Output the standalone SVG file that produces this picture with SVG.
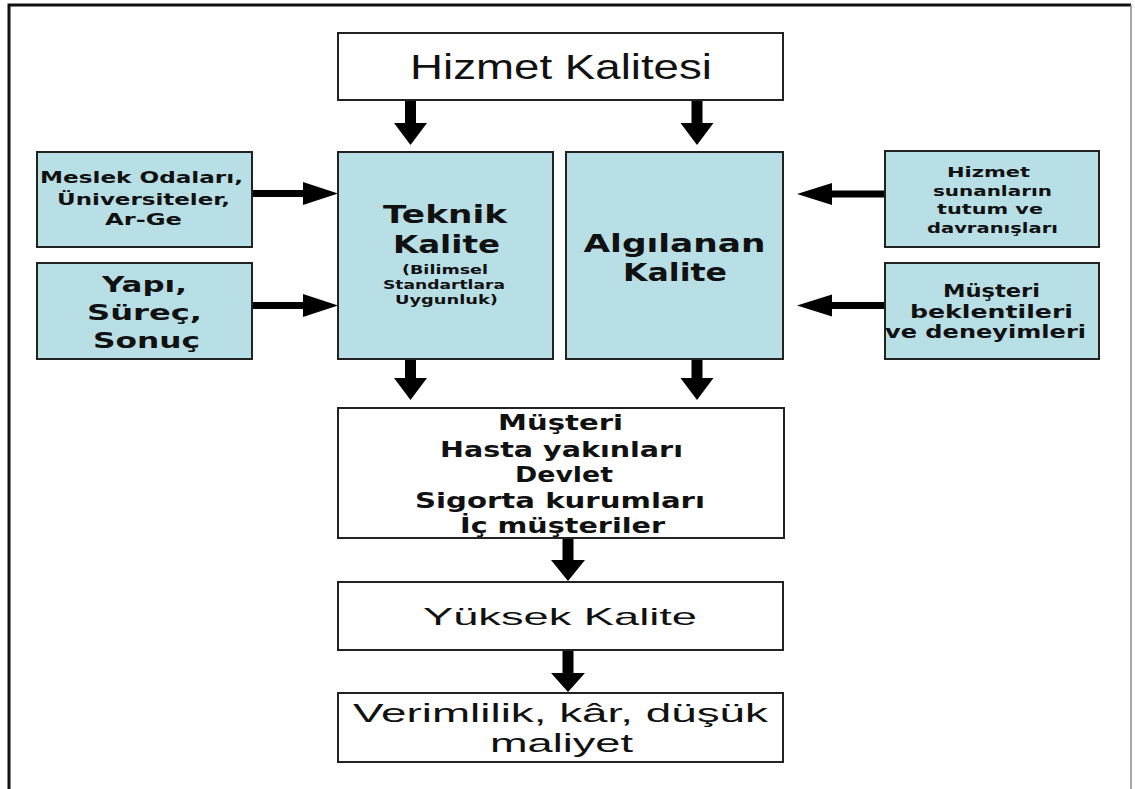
<svg xmlns="http://www.w3.org/2000/svg" width="1135" height="789" viewBox="0 0 1135 789">
<defs>
<style>
.w{fill:#ffffff;stroke:#222;stroke-width:2}
.b{fill:#b8dfe6;stroke:#222;stroke-width:2}
.a{fill:#000}
.bk{font-family:"DejaVu Sans",Verdana,sans-serif;font-weight:bold;fill:#111;text-anchor:middle}
.rg{font-family:"Liberation Sans",Arial,sans-serif;fill:#111;text-anchor:middle}
</style>
</defs>
<rect width="1135" height="789" fill="#ffffff"/>
<g id="frame" fill="none">
<path d="M9,789 V5 H1131" stroke="#111" stroke-width="3"/>
<path d="M1131,5 V789" stroke="#888" stroke-width="1.5"/>
</g>
<g id="connectors">
<polygon class="a" points="405,100 416,100 416,123 427,123 410.5,145 394,123 405,123"/>
<polygon class="a" points="691.5,100 702.5,100 702.5,123 713.5,123 697,145 680.5,123 691.5,123"/>
<polygon class="a" points="252,190 303,190 303,182 338,193.5 303,205 303,197 252,197"/>
<polygon class="a" points="252,302 303,302 303,294 338,305.5 303,317 303,309 252,309"/>
<polygon class="a" points="885,190.5 832,190.5 832,183 797,194 832,205 832,197.5 885,197.5"/>
<polygon class="a" points="885,302 832,302 832,294.5 797,305.5 832,316.5 832,309 885,309"/>
<polygon class="a" points="405,358 416,358 416,378 427,378 410.5,400 394,378 405,378"/>
<polygon class="a" points="691.5,358 702.5,358 702.5,378 713.5,378 697,400 680.5,378 691.5,378"/>
<polygon class="a" points="562.5,538 573.5,538 573.5,560 585,560 568,581 551,560 562.5,560"/>
<polygon class="a" points="562.5,650 573.5,650 573.5,673 585,673 568,692 551,673 562.5,673"/>
</g>
<g id="hizmet-kalitesi">
<rect class="w" x="338" y="33" width="445" height="67"/>
<text class="rg" x="561" y="79" font-size="35" textLength="302" lengthAdjust="spacingAndGlyphs">Hizmet Kalitesi</text>
</g>
<g id="meslek">
<rect class="b" x="37" y="152" width="215" height="95"/>
<text class="bk" font-size="15" x="141.5" y="183" textLength="203" lengthAdjust="spacingAndGlyphs">Meslek Odaları,</text>
<text class="bk" font-size="15" x="143.5" y="205" textLength="173" lengthAdjust="spacingAndGlyphs">Üniversiteler,</text>
<text class="bk" font-size="15" x="143.5" y="225" textLength="77" lengthAdjust="spacingAndGlyphs">Ar-Ge</text>
</g>
<g id="yapi">
<rect class="b" x="37" y="263" width="215" height="96"/>
<text class="bk" font-size="21" x="144.5" y="292" textLength="85" lengthAdjust="spacingAndGlyphs">Yapı,</text>
<text class="bk" font-size="21" x="144.5" y="320" textLength="115" lengthAdjust="spacingAndGlyphs">Süreç,</text>
<text class="bk" font-size="21" x="146.5" y="348" textLength="107" lengthAdjust="spacingAndGlyphs">Sonuç</text>
</g>
<g id="teknik-kalite">
<rect class="b" x="338" y="152" width="215" height="207"/>
<text class="bk" font-size="24" x="445" y="223" textLength="124" lengthAdjust="spacingAndGlyphs">Teknik</text>
<text class="bk" font-size="24" x="446.5" y="253" textLength="107" lengthAdjust="spacingAndGlyphs">Kalite</text>
<text class="bk" font-size="13" font-weight="normal" x="445" y="274" textLength="86" lengthAdjust="spacingAndGlyphs">(Bilimsel</text>
<text class="bk" font-size="13" font-weight="normal" x="444" y="289" textLength="122" lengthAdjust="spacingAndGlyphs">Standartlara</text>
<text class="bk" font-size="13" font-weight="normal" x="446.5" y="304" textLength="103" lengthAdjust="spacingAndGlyphs">Uygunluk)</text>
</g>
<g id="algilanan-kalite">
<rect class="b" x="566" y="152" width="217" height="207"/>
<text class="bk" font-size="24" x="674.5" y="252" textLength="182" lengthAdjust="spacingAndGlyphs">Algılanan</text>
<text class="bk" font-size="24" x="675" y="281" textLength="104" lengthAdjust="spacingAndGlyphs">Kalite</text>
</g>
<g id="hizmet-sunanlar">
<rect class="b" x="885" y="151" width="214" height="96"/>
<text class="bk" font-size="14" x="988.5" y="177" textLength="83" lengthAdjust="spacingAndGlyphs">Hizmet</text>
<text class="bk" font-size="14" x="992.5" y="196" textLength="119" lengthAdjust="spacingAndGlyphs">sunanların</text>
<text class="bk" font-size="14" x="990" y="214" textLength="106" lengthAdjust="spacingAndGlyphs">tutum ve</text>
<text class="bk" font-size="14" x="992.5" y="233" textLength="131" lengthAdjust="spacingAndGlyphs">davranışları</text>
</g>
<g id="musteri-beklentileri">
<rect class="b" x="885" y="263" width="214" height="96"/>
<text class="bk" font-size="17" x="991.5" y="297" textLength="97" lengthAdjust="spacingAndGlyphs">Müşteri</text>
<text class="bk" font-size="17" x="991.5" y="318" textLength="163" lengthAdjust="spacingAndGlyphs">beklentileri</text>
<text class="bk" font-size="17" x="985.5" y="338" textLength="201" lengthAdjust="spacingAndGlyphs">ve deneyimleri</text>
</g>
<g id="musteri">
<rect class="w" x="338" y="408" width="446" height="130"/>
<text class="bk" font-size="21" x="560.5" y="430" textLength="125" lengthAdjust="spacingAndGlyphs">Müşteri</text>
<text class="bk" font-size="21" x="561.5" y="457" textLength="243" lengthAdjust="spacingAndGlyphs">Hasta yakınları</text>
<text class="bk" font-size="21" x="564" y="482" textLength="98" lengthAdjust="spacingAndGlyphs">Devlet</text>
<text class="bk" font-size="21" x="560" y="508" textLength="290" lengthAdjust="spacingAndGlyphs">Sigorta kurumları</text>
<text class="bk" font-size="21" x="562.5" y="533" textLength="205" lengthAdjust="spacingAndGlyphs">İç müşteriler</text>
</g>
<g id="yuksek-kalite">
<rect class="w" x="338" y="582" width="445" height="68"/>
<text class="rg" x="560" y="625" font-size="24" textLength="274" lengthAdjust="spacingAndGlyphs">Yüksek Kalite</text>
</g>
<g id="verimlilik">
<rect class="w" x="338" y="693" width="445" height="69"/>
<text class="rg" font-size="26" x="560.5" y="722" textLength="415" lengthAdjust="spacingAndGlyphs">Verimlilik, kâr, düşük</text>
<text class="rg" font-size="26" x="561.5" y="752" textLength="143" lengthAdjust="spacingAndGlyphs">maliyet</text>
</g>
</svg>
